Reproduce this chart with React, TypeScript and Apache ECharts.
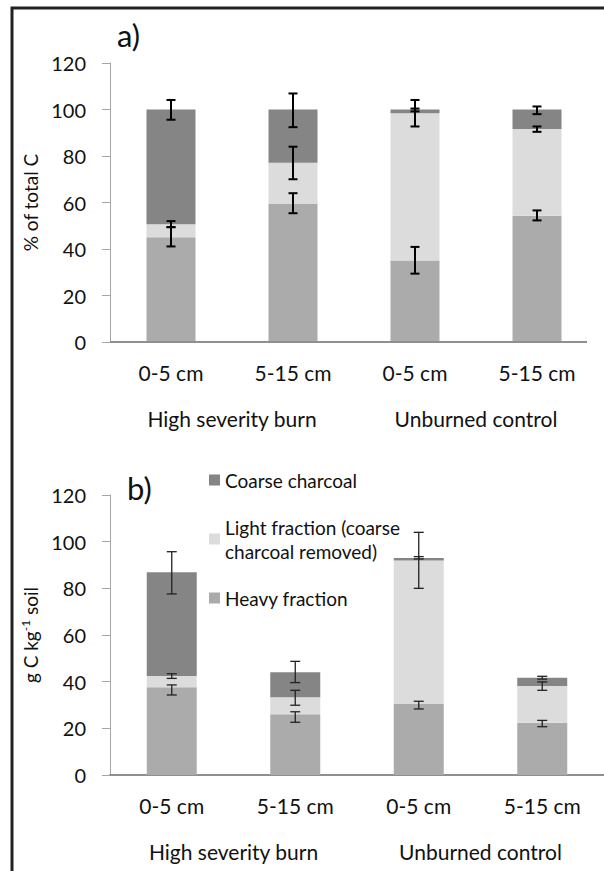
import React, { useEffect, useRef } from "react";
import * as echarts from "echarts";

// ---- data ----
const depths = ["0-5 cm", "5-15 cm", "0-5 cm", "5-15 cm"];
const groups = ["High severity burn", "Unburned control"];
const seriesNames = ["Heavy fraction", "Light fraction (coarse charcoal removed)", "Coarse charcoal"];
const yTicks = [0, 20, 40, 60, 80, 100, 120];

// a) % of total C
const pctHeavy = [45.1, 59.4, 35.1, 54.3];
const pctLight = [5.5, 17.7, 63.3, 37.3];
const pctCoarse = [49.4, 22.9, 1.6, 8.4];
const pctHeavyErr = [[41.1, 49.4], [55.4, 64.0], [29.4, 40.9], [52.3, 56.6]];
const pctLightErr = [[49.4, 52.0], [70.0, 84.0], [92.7, 104.1], [90.4, 92.7]];
const pctCoarseErr = [[95.6, 104.1], [92.4, 106.9], [99.2, 100.4], [98.0, 101.3]];

// b) g C kg-1 soil
const gHeavy = [37.6, 26.0, 30.4, 22.4];
const gLight = [4.8, 7.3, 61.5, 15.7];
const gCoarse = [44.5, 10.7, 1.1, 3.6];
const gHeavyErr = [[34.3, 38.6], [22.6, 27.1], [28.3, 31.6], [20.7, 23.4]];
const gLightErr = [[41.4, 43.4], [29.9, 36.3], [80.0, 104.0], [36.3, 39.9]];
const gCoarseErr = [[77.6, 95.7], [39.6, 48.7], [92.6, 93.6], [41.1, 42.3]];

const colors = ["#ababab", "#dcdcdc", "#858585"];
const FONT = "Lato, 'Open Sans', sans-serif";

function errData(...lists: number[][][]) {
  const out: number[][] = [];
  lists.forEach((l) => l.forEach((pair, i) => out.push([i, pair[0], pair[1]])));
  return out;
}

export default function App() {
  const ref = useRef<HTMLDivElement>(null);
  useEffect(() => {
    if (!ref.current) return;
    const chart = echarts.init(ref.current, null, { renderer: "svg" });

    const makeErr = (gridIdx: number, data: number[][], lw: number, color: string, cap: number) => ({
      type: "custom",
      xAxisIndex: gridIdx * 2,
      yAxisIndex: gridIdx,
      z: 10,
      silent: true,
      data,
      renderItem: (params: any, api: any) => {
        const x = api.value(0);
        const lo = api.coord([x, api.value(1)]);
        const hi = api.coord([x, api.value(2)]);
        const st = { stroke: color, lineWidth: lw };
        return {
          type: "group",
          children: [
            { type: "line", shape: { x1: lo[0], y1: lo[1], x2: hi[0], y2: hi[1] }, style: st },
            { type: "line", shape: { x1: lo[0] - cap, y1: lo[1], x2: lo[0] + cap, y2: lo[1] }, style: st },
            { type: "line", shape: { x1: hi[0] - cap, y1: hi[1], x2: hi[0] + cap, y2: hi[1] }, style: st },
          ],
        };
      },
    });

    const bar = (gridIdx: number, name: string, data: number[], color: string, w: number) => ({
      type: "bar",
      name,
      stack: "s" + gridIdx,
      xAxisIndex: gridIdx * 2,
      yAxisIndex: gridIdx,
      data,
      barWidth: w,
      itemStyle: { color },
      silent: true,
    });

    const labelStyle = { color: "#111", fontSize: 21, fontFamily: FONT, margin: 19, lineHeight: 22 };

    const xAxes = (gridIdx: number, showLine: boolean) => [
      {
        type: "category",
        gridIndex: gridIdx,
        data: depths,
        axisLine: { show: showLine, lineStyle: { color: "#8f8f8f", width: 2 } },
        axisTick: { show: false },
        axisLabel: labelStyle,
      },
      {
        type: "category",
        gridIndex: gridIdx,
        data: groups,
        position: "bottom",
        offset: 46,
        axisLine: { show: false },
        axisTick: { show: false },
        axisLabel: labelStyle,
      },
    ];

    const yAxis = (gridIdx: number, name: string) => ({
      type: "value",
      gridIndex: gridIdx,
      min: yTicks[0],
      max: yTicks[yTicks.length - 1],
      interval: yTicks[1] - yTicks[0],
      splitLine: { show: false },
      axisLine: { show: true, lineStyle: { color: "#a6a6a6", width: 1 } },
      axisTick: { show: true, length: 8, lineStyle: { color: "#a6a6a6" } },
      axisLabel: { color: "#111", fontSize: 20, fontFamily: FONT, margin: 24 },
      name,
      nameLocation: "middle",
      nameGap: 67,
      nameTextStyle: {
        color: "#111",
        fontSize: 19,
        fontFamily: FONT,
        rich: {
          sup: { fontSize: 12, fontFamily: FONT, color: "#111", verticalAlign: "top", lineHeight: 22 },
          n: { fontSize: 19, fontFamily: FONT, color: "#111", lineHeight: 22 },
        },
      },
    });

    const legendBase = {
      orient: "vertical",
      left: 209,
      padding: 0,
      itemWidth: 11,
      itemHeight: 11,
      icon: "rect",
      selectedMode: false,
      textStyle: { color: "#111", fontSize: 19, fontFamily: FONT, lineHeight: 24 },
    };

    const option: any = {
      animation: false,
      backgroundColor: "#fff",
      grid: [
        { left: 110, top: 63, width: 488, height: 279 },
        { left: 110, top: 495, width: 506, height: 280 },
      ],
      xAxis: [...xAxes(0, false), ...xAxes(1, true)],
      yAxis: [yAxis(0, "% of total C"), yAxis(1, "{n|g C kg}{sup|-1}{n| soil}")],
      legend: [
        { ...legendBase, top: 468, data: [seriesNames[2]] },
        {
          ...legendBase,
          top: 503,
          data: [seriesNames[1]],
          formatter: (n: string) => n.replace(" charcoal", "\ncharcoal"),
          textStyle: { ...legendBase.textStyle, padding: [24, 0, 0, 0] },
        },
        { ...legendBase, top: 586, data: [seriesNames[0]] },
      ],
      title: [
        { text: "a)", left: 112, top: 14, textStyle: { fontSize: 31, fontWeight: "normal", color: "#111", fontFamily: FONT } },
        { text: "b)", left: 122, top: 467, textStyle: { fontSize: 31, fontWeight: "normal", color: "#111", fontFamily: FONT } },
      ],
      graphic: [
        {
          type: "rect",
          shape: { x: 12, y: 8, width: 620, height: 900 },
          style: { fill: "none", stroke: "#222", lineWidth: 3 },
          silent: true,
        },
        {
          type: "line",
          shape: { x1: 110, y1: 342, x2: 587, y2: 342 },
          style: { stroke: "#8f8f8f", lineWidth: 2 },
          z: 5,
          silent: true,
        },
      ],
      series: [
        bar(0, seriesNames[0], pctHeavy, colors[0], 49),
        bar(0, seriesNames[1], pctLight, colors[1], 49),
        bar(0, seriesNames[2], pctCoarse, colors[2], 49),
        bar(1, seriesNames[0], gHeavy, colors[0], 50),
        bar(1, seriesNames[1], gLight, colors[1], 50),
        bar(1, seriesNames[2], gCoarse, colors[2], 50),
        makeErr(0, errData(pctHeavyErr, pctLightErr, pctCoarseErr), 2, "#000", 4.5),
        makeErr(1, errData(gHeavyErr, gLightErr, gCoarseErr), 1.3, "#222", 5),
      ],
    };
    chart.setOption(option);
    return () => chart.dispose();
  }, []);
  return (
    <div
      ref={ref}
      style={{ position: "fixed", left: 0, top: 0, width: 604, height: 871, background: "#fff" }}
    />
  );
}
